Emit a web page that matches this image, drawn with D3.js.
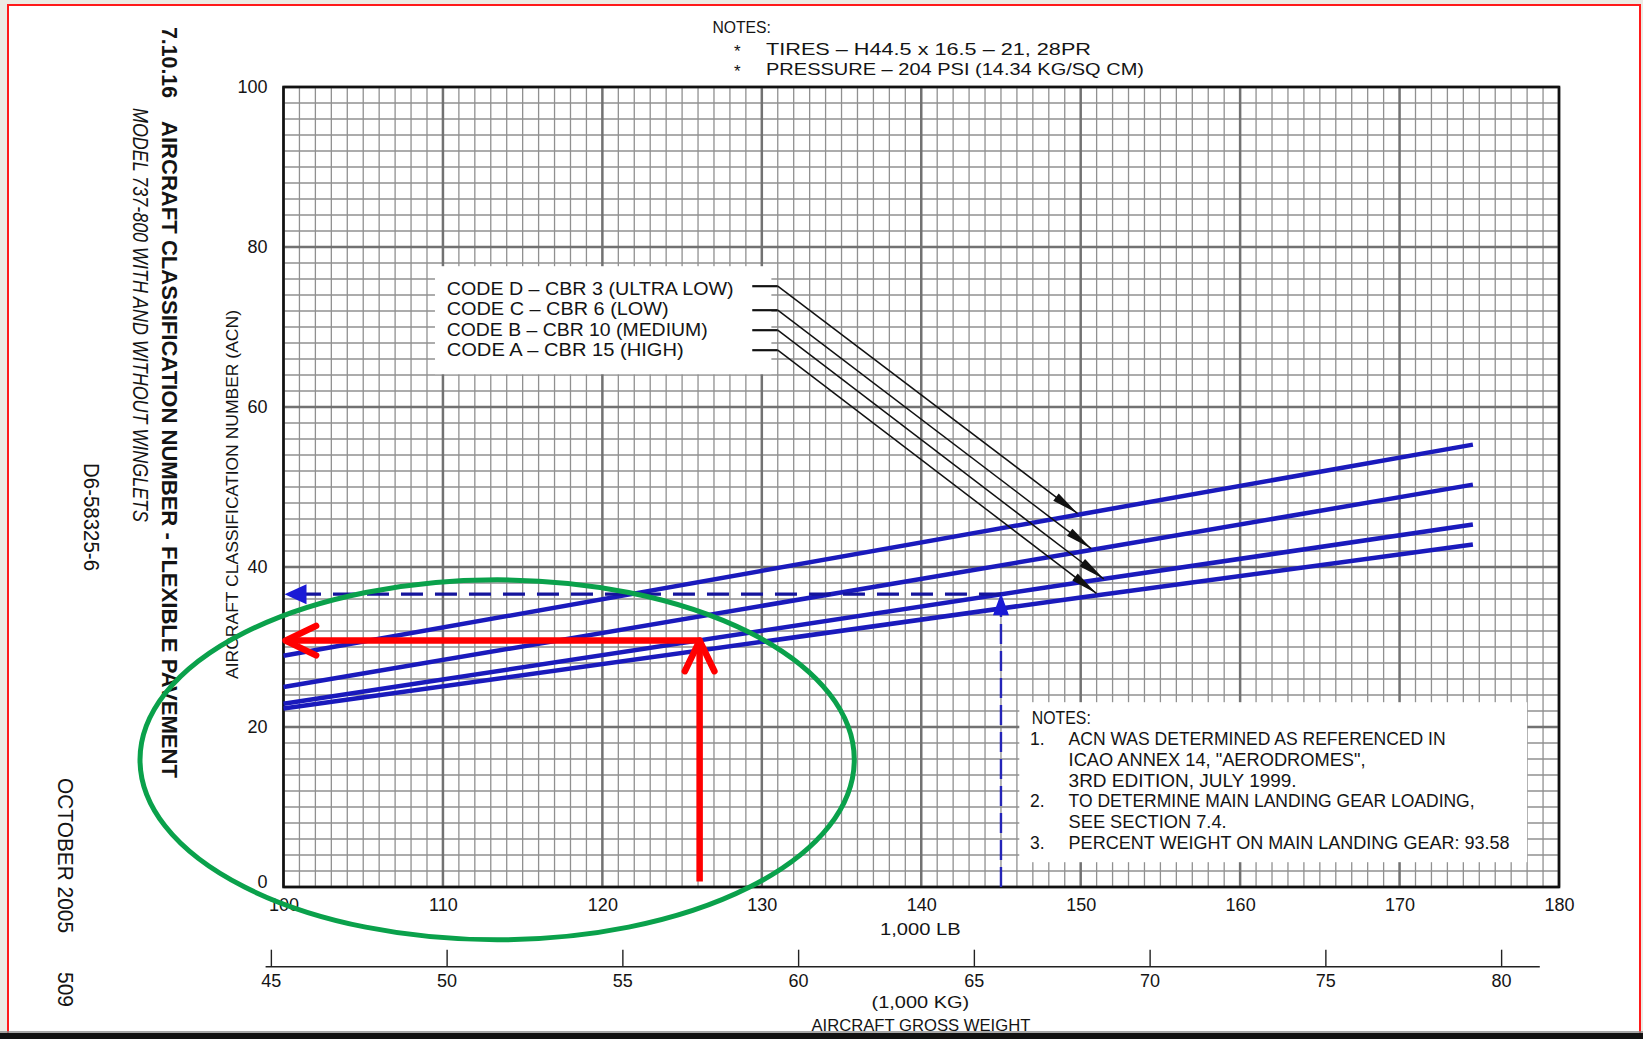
<!DOCTYPE html>
<html>
<head>
<meta charset="utf-8">
<script src="https://cdn.jsdelivr.net/npm/d3@7"></script>
<style>
  body { margin: 0; background: #ecebe4; }
  svg { display: block; }
  text { font-family: "Liberation Sans", Arial, sans-serif; fill: #141414; }
</style>
</head>
<body>
<svg id="chart"></svg>
<script>
// ACN curves at these gross weights (1,000 lb)
const weightLb = [100, 150, 174.6];
const acnCodeD = [28.9, 46.6, 55.3];
const acnCodeC = [25.0, 41.9, 50.3];
const acnCodeB = [22.9, 38.1, 45.3];
const acnCodeA = [22.3, 36.2, 42.8];
const curves = [acnCodeD, acnCodeC, acnCodeB, acnCodeA];

const legendLabels = [
  "CODE D  –  CBR 3  (ULTRA LOW)",
  "CODE C  –  CBR 6  (LOW)",
  "CODE B  –  CBR 10  (MEDIUM)",
  "CODE A  –  CBR 15  (HIGH)"
];
// where each legend row leaves the box, and where its arrow lands on the curve
const leaderRowAcn = [75.1, 72.1, 69.6, 67.1];
const leaderTipWeight = [149.8, 150.66, 151.45, 150.99];
const leaderTipAcn = [46.7, 42.3, 38.5, 36.7];

const xTicks = d3.range(100, 181, 10);
const yTicks = d3.range(0, 101, 20);
const kgTicks = d3.range(45, 81, 5);
const LB_PER_KG = 2.20462;

const topNotes = ["TIRES  –  H44.5  x  16.5  –  21,  28PR", "PRESSURE  –  204  PSI  (14.34  KG/SQ  CM)"];
const topNoteWidths = [325, 378];
const boxNotes = [
  ["1.", "ACN WAS DETERMINED AS REFERENCED IN"],
  ["", "ICAO ANNEX 14, \"AERODROMES\","],
  ["", "3RD EDITION, JULY 1999."],
  ["2.", "TO DETERMINE MAIN LANDING GEAR LOADING,"],
  ["", "SEE SECTION 7.4."],
  ["3.", "PERCENT WEIGHT ON MAIN LANDING GEAR: 93.58"]
];
const boxNoteWidths = [377, 297, 228, 406, 158, 441];
const legendWidths = [287, 222, 261, 237];

// hand-drawn reading annotations (weight klb, ACN)
const redWeight = 126.1, redAcn = 30.8;
const blueWeight = 145, blueAcn = 36.6;
const ringCenter = [113.4, 15.9], ringRadius = [22.4, 22.5];

const width = 1643, height = 1039;
const svg = d3.select("#chart").attr("width", width).attr("height", height);

const x = d3.scaleLinear([100, 180], [283.5, 1559]);
const y = d3.scaleLinear([0, 100], [887, 87]);
const kg = d3.scaleLinear([100 / LB_PER_KG, 180 / LB_PER_KG], [283.5, 1559]);

// page
svg.append("rect").attr("x", 8).attr("y", 5).attr("width", 1632).attr("height", 1040)
  .attr("fill", "#fff").attr("stroke", "#ff1a1a").attr("stroke-width", 2);
svg.append("rect").attr("x", 0).attr("y", 1033).attr("width", width).attr("height", 6).attr("fill", "#111");
svg.append("line").attr("x1", 0).attr("x2", width).attr("y1", 1032).attr("y2", 1032)
  .attr("stroke", "#8a8a8a").attr("stroke-width", 1.5);

function put(g, str, px, py, size, len) {
  const t = g.append("text").attr("x", px).attr("y", py).attr("font-size", size).text(str);
  if (len) t.attr("textLength", len).attr("lengthAdjust", "spacingAndGlyphs");
  return t;
}

// grid
const grid = svg.append("g");
grid.selectAll(".vmin").data(d3.range(100, 181, 1).filter(d => d % 10)).join("line")
  .attr("x1", d => x(d)).attr("x2", d => x(d)).attr("y1", y(0)).attr("y2", y(100))
  .attr("stroke", "#909090").attr("stroke-width", 1.3);
grid.selectAll(".hmin").data(d3.range(0, 101, 2).filter(d => d % 20)).join("line")
  .attr("x1", x(100)).attr("x2", x(180)).attr("y1", d => y(d)).attr("y2", d => y(d))
  .attr("stroke", "#909090").attr("stroke-width", 1.3);
grid.selectAll(".vmaj").data(xTicks).join("line")
  .attr("x1", d => x(d)).attr("x2", d => x(d)).attr("y1", y(0)).attr("y2", y(100))
  .attr("stroke", "#727272").attr("stroke-width", 2.5);
grid.selectAll(".hmaj").data(yTicks).join("line")
  .attr("x1", x(100)).attr("x2", x(180)).attr("y1", d => y(d)).attr("y2", d => y(d))
  .attr("stroke", "#727272").attr("stroke-width", 2.5);
svg.append("rect").attr("x", x(100)).attr("y", y(100))
  .attr("width", x(180) - x(100)).attr("height", y(0) - y(100))
  .attr("fill", "none").attr("stroke", "#111").attr("stroke-width", 2.6);

// axes
const yAxis = svg.append("g").attr("transform", `translate(${x(100)},0)`)
  .call(d3.axisLeft(y).tickValues(yTicks).tickSize(0).tickPadding(16))
  .call(g => g.select(".domain").remove());
yAxis.selectAll("text").attr("font-size", 18).attr("font-family", null);
yAxis.selectAll(".tick").filter(d => d === 0).select("text").attr("dy", "0.0em");

const xAxis = svg.append("g").attr("transform", `translate(0,${y(0)})`)
  .call(d3.axisBottom(x).tickValues(xTicks).tickSize(0).tickPadding(11))
  .call(g => g.select(".domain").remove());
xAxis.selectAll("text").attr("font-size", 18).attr("font-family", null);

const kgAxis = svg.append("g").attr("transform", "translate(0,966.7)")
  .call(d3.axisBottom(kg).tickValues(kgTicks).tickSize(-17).tickPadding(8))
  .call(g => g.select(".domain").remove());
kgAxis.selectAll("text").attr("font-size", 18).attr("font-family", null);
kgAxis.selectAll("line").attr("stroke", "#222").attr("stroke-width", 1.4);
kgAxis.append("line").attr("x1", kg(44.85)).attr("x2", kg(81.1))
  .attr("stroke", "#222").attr("stroke-width", 1.6);

// axis titles
put(svg, "1,000 LB", 880, 935, 16.5, 80.6);
put(svg, "(1,000 KG)", 871.6, 1008, 16.5, 97.6);
put(svg, "AIRCRAFT GROSS WEIGHT", 811.4, 1031, 16.5, 219);
put(svg, "AIRCRAFT CLASSIFICATION NUMBER (ACN)", 0, 0, 17, 369)
  .attr("transform", "translate(238,679) rotate(-90)");

// side titles
put(svg, "7.10.16", 0, 0, 22, 71).attr("font-weight", "bold")
  .attr("transform", "translate(162,27) rotate(90)");
put(svg, "AIRCRAFT CLASSIFICATION NUMBER - FLEXIBLE PAVEMENT", 0, 0, 22, 657).attr("font-weight", "bold")
  .attr("transform", "translate(162,121) rotate(90)");
put(svg, "MODEL 737-800 WITH AND WITHOUT WINGLETS", 0, 0, 22, 414).attr("font-style", "italic")
  .attr("transform", "translate(133,108) rotate(90)");
put(svg, "D6-58325-6", 0, 0, 22, 108).attr("font-family", "'Liberation Serif', serif")
  .attr("transform", "translate(84,463) rotate(90)");
put(svg, "OCTOBER 2005", 0, 0, 22, 155).attr("transform", "translate(58,778) rotate(90)");
put(svg, "509", 0, 0, 22, 35).attr("transform", "translate(58,972) rotate(90)");

// top notes
put(svg, "NOTES:", 712.4, 33, 17, 58.6);
topNotes.forEach((s, i) => {
  put(svg, "*", 734, 57 + i * 20, 17);
  put(svg, s, 766, 55 + i * 20, 17, topNoteWidths[i]);
});

// legend box
svg.append("rect").attr("x", x(109.5)).attr("y", y(77.6))
  .attr("width", x(130.6) - x(109.5)).attr("height", y(64.1) - y(77.6)).attr("fill", "#fff");
legendLabels.forEach((s, i) => put(svg, s, 446.7, 295 + i * 20.3, 18, legendWidths[i]));

// notes box
svg.append("rect").attr("x", x(146.15)).attr("y", y(23.1))
  .attr("width", x(178) - x(146.15)).attr("height", y(3.1) - y(23.1)).attr("fill", "#fff");
put(svg, "NOTES:", 1031.8, 724, 17.5, 59);
boxNotes.forEach(([num, s], i) => {
  const by = 745 + i * 20.8;
  if (num) put(svg, num, 1030, by, 17.5);
  put(svg, s, 1068.6, by, 17.5, boxNoteWidths[i]);
});

// curves
const line = d3.line().x((d, i) => x(weightLb[i])).y(d => y(d));
svg.append("g").selectAll("path").data(curves).join("path")
  .attr("d", line).attr("fill", "none")
  .attr("stroke", "#1a1abc").attr("stroke-width", 4.5);

function arrowHead(g, tx, ty, angle, len, half, fill) {
  const c = Math.cos(angle), s = Math.sin(angle);
  const bx = tx - c * len, by = ty - s * len;
  const pts = [[tx, ty], [bx - s * half, by + c * half], [bx + s * half, by - c * half]];
  g.append("polygon").attr("points", pts.map(p => p.join(",")).join(" ")).attr("fill", fill);
}

// leaders from legend to curves
const leaders = svg.append("g");
leaderRowAcn.forEach((acn, i) => {
  const x0 = x(129.4), x1 = x(131.0), y0 = y(acn);
  const tx = x(leaderTipWeight[i]), ty = y(leaderTipAcn[i]);
  leaders.append("line").attr("x1", x0).attr("x2", x1).attr("y1", y0).attr("y2", y0)
    .attr("stroke", "#111").attr("stroke-width", 2.2);
  leaders.append("line").attr("x1", x1).attr("y1", y0).attr("x2", tx).attr("y2", ty)
    .attr("stroke", "#111").attr("stroke-width", 1.5);
  arrowHead(leaders, tx, ty, Math.atan2(ty - y0, tx - x1), 27, 4.5, "#111");
});

// blue dashed reading
const blue = svg.append("g");
blue.append("line").attr("x1", x(blueWeight)).attr("x2", x(blueWeight))
  .attr("y1", y(0)).attr("y2", y(blueAcn) + 18)
  .attr("stroke", "#2424b8").attr("stroke-width", 2.4).attr("stroke-dasharray", "20,7");
arrowHead(blue, x(blueWeight), y(blueAcn) - 1, -Math.PI / 2, 22, 8, "#1a1ad6");
blue.append("line").attr("x1", x(blueWeight)).attr("x2", x(100) + 20)
  .attr("y1", y(blueAcn)).attr("y2", y(blueAcn))
  .attr("stroke", "#14149c").attr("stroke-width", 3.2).attr("stroke-dasharray", "22,12");
arrowHead(blue, x(100) + 1, y(blueAcn), Math.PI, 22, 10, "#1a1ad6");

// red reading
const red = svg.append("g").attr("stroke", "#ff0000").attr("stroke-width", 6.5)
  .attr("fill", "none").attr("stroke-linecap", "round").attr("stroke-linejoin", "round");
red.append("path").attr("d", d3.line()([[x(redWeight), y(0.7)], [x(redWeight), y(redAcn)], [x(100) + 2, y(redAcn)]]))
  .attr("stroke-linecap", "butt");
function chevron(tx, ty, angle) {
  const arms = [angle + Math.PI - 0.45, angle + Math.PI + 0.45].map(a => [tx + Math.cos(a) * 34, ty + Math.sin(a) * 34]);
  red.append("path").attr("d", d3.line()([arms[0], [tx, ty], arms[1]]));
}
chevron(x(redWeight), y(redAcn), -Math.PI / 2);
chevron(x(100) + 2, y(redAcn), Math.PI);

// green ring
svg.append("ellipse")
  .attr("cx", x(ringCenter[0])).attr("cy", y(ringCenter[1]))
  .attr("rx", x(ringCenter[0] + ringRadius[0]) - x(ringCenter[0]))
  .attr("ry", y(ringCenter[1] - ringRadius[1]) - y(ringCenter[1]))
  .attr("fill", "none").attr("stroke", "#0aa14b").attr("stroke-width", 5);
</script>
</body>
</html>
